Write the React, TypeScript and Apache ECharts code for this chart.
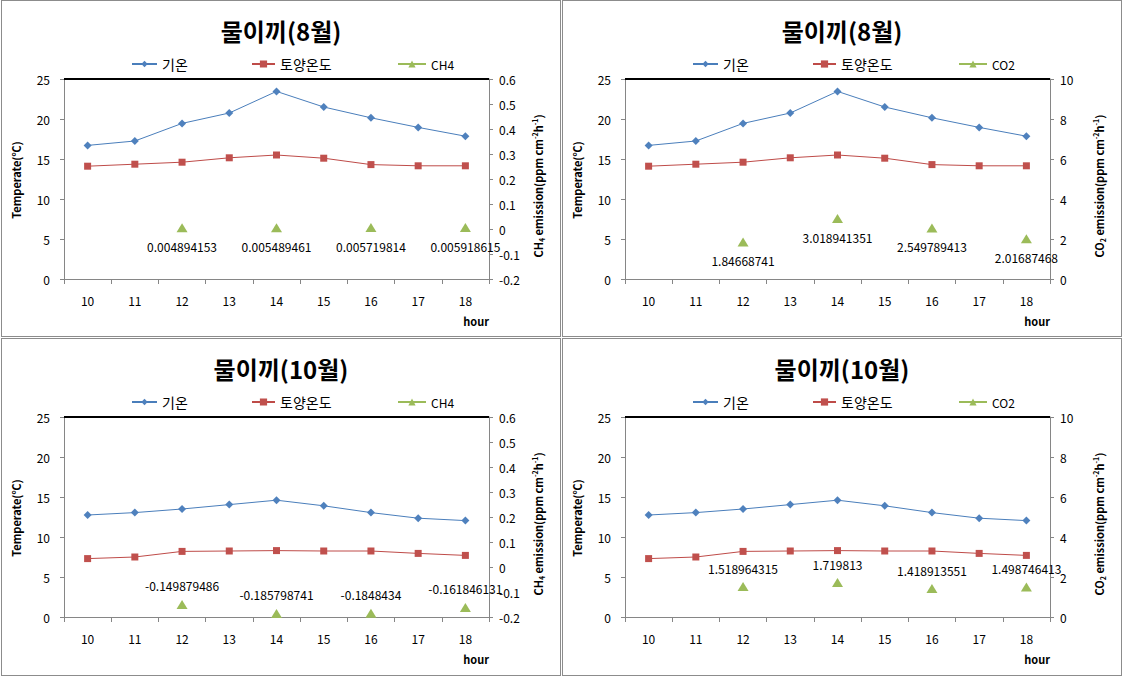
import React, { useEffect, useRef } from "react";
import * as echarts from "echarts";

const hours = ["10", "11", "12", "13", "14", "15", "16", "17", "18"];

const airTempAug = [16.7, 17.25, 19.45, 20.75, 23.45, 21.5, 20.15, 18.95, 17.85];
const soilTempAug = [14.1, 14.35, 14.6, 15.15, 15.5, 15.1, 14.3, 14.15, 14.15];
const ch4Aug = [null, null, 0.004894153, null, 0.005489461, null, 0.005719814, null, 0.005918615];
const co2Aug = [null, null, 1.84668741, null, 3.018941351, null, 2.549789413, null, 2.01687468];

const airTempOct = [12.75, 13.05, 13.5, 14.05, 14.6, 13.9, 13.05, 12.35, 12.05];
const soilTempOct = [7.3, 7.5, 8.2, 8.25, 8.3, 8.25, 8.25, 7.95, 7.7];
const ch4Oct = [null, null, -0.149879486, null, -0.185798741, null, -0.1848434, null, -0.161846131];
const co2Oct = [null, null, 1.518964315, null, 1.719813, null, 1.418913551, null, 1.498746413];

const leftTicks = { min: 0, max: 25, interval: 5 };
const ch4Ticks = { min: -0.2, max: 0.6, interval: 0.1 };
const co2Ticks = { min: 0, max: 10, interval: 2 };

const FONT = "'Noto Sans CJK KR', 'Noto Sans', sans-serif";
const AXIS_GRAY = "#868686";

const GRID_LEFT = 62;
const GRID_TOP = 78;
const GRID_W = 425;
const GRID_H = 200;

type PanelProps = {
  title: string;
  gas: string;
  air: number[];
  soil: number[];
  emission: (number | null)[];
  right: { min: number; max: number; interval: number };
  labelPos: "top" | "bottom";
  left: number;
  top: number;
  height: number;
};

function Panel(p: PanelProps) {
  const ref = useRef<HTMLDivElement>(null);
  useEffect(() => {
    if (!ref.current) return;
    const chart = echarts.init(ref.current, null, { renderer: "svg" });
    const axisLabel = { color: "#000", fontSize: 12, fontFamily: FONT };
    const gasSub = p.gas === "CH4" ? "4" : "2";
    const gasMain = p.gas === "CH4" ? "CH" : "CO";
    chart.setOption({
      animation: false,
      backgroundColor: "#fff",
      title: {
        text: p.title,
        left: "center",
        top: 12,
        textStyle: { fontSize: 24, fontWeight: "bold", color: "#000", fontFamily: FONT },
      },
      legend: [
        {
          data: ["기온"],
          left: 124,
          top: 51,
          itemWidth: 25,
          itemHeight: 8,
          itemGap: 4,
          textStyle: { fontSize: 14, color: "#000", fontFamily: FONT, padding: [7, 0, 0, 0] },
        },
        {
          data: ["토양온도"],
          left: 244,
          top: 51,
          itemWidth: 23,
          itemHeight: 9,
          textStyle: { fontSize: 14, color: "#000", fontFamily: FONT, padding: [7, 0, 0, 0] },
        },
        {
          data: [p.gas],
          left: 390,
          top: 52,
          itemWidth: 28,
          itemHeight: 9,
          textStyle: { fontSize: 12, color: "#000", fontFamily: FONT, padding: [2, 0, 0, 0] },
        },
      ],
      grid: { left: GRID_LEFT, top: GRID_TOP, width: GRID_W, height: GRID_H },
      xAxis: {
        type: "category",
        data: hours,
        boundaryGap: true,
        position: "bottom",
        axisLine: { onZero: false, lineStyle: { color: AXIS_GRAY, width: 1 } },
        axisTick: { show: true, length: 5, lineStyle: { color: AXIS_GRAY } },
        axisLabel: { ...axisLabel, margin: 15 },
        splitLine: { show: false },
      },
      yAxis: [
        {
          type: "value",
          position: "left",
          ...leftTicks,
          axisLine: { show: true, onZero: false, lineStyle: { color: AXIS_GRAY } },
          axisTick: { show: true, length: 4, lineStyle: { color: AXIS_GRAY } },
          axisLabel: { ...axisLabel, margin: 14 },
          splitLine: { show: false },
        },
        {
          type: "value",
          position: "right",
          ...p.right,
          axisLine: { show: true, onZero: false, lineStyle: { color: AXIS_GRAY } },
          axisTick: { show: true, length: 4, lineStyle: { color: AXIS_GRAY } },
          axisLabel: { ...axisLabel, margin: 10 },
          splitLine: { show: false },
        },
      ],
      graphic: [
        {
          type: "text",
          x: 14,
          y: 179,
          rotation: Math.PI / 2,
          style: {
            text: "Temperate(℃)",
            fontSize: 11,
            fontWeight: "bold",
            fontFamily: FONT,
            fill: "#000",
            align: "center",
            verticalAlign: "middle",
          },
        },
        {
          type: "text",
          x: 536,
          y: 185,
          rotation: Math.PI / 2,
          style: {
            text: `{a|${gasMain}}{s|${gasSub}}{a| emission(ppm cm}{p|-2}{a|h}{p|-1}{a|)}`,
            align: "center",
            verticalAlign: "middle",
            rich: {
              a: { fontSize: 11, fontWeight: "bold", fontFamily: FONT, fill: "#000", lineHeight: 14, verticalAlign: "middle" },
              s: { fontSize: 7, fontWeight: "bold", fontFamily: FONT, fill: "#000", lineHeight: 14, verticalAlign: "bottom" },
              p: { fontSize: 7, fontWeight: "bold", fontFamily: FONT, fill: "#000", lineHeight: 14, verticalAlign: "top" },
            },
          },
        },
        {
          type: "text",
          x: 487,
          y: 320,
          style: {
            text: "hour",
            fontSize: 11,
            fontWeight: "bold",
            fontFamily: FONT,
            fill: "#000",
            align: "right",
            verticalAlign: "middle",
          },
        },
      ],
      series: [
        {
          name: "기온",
          type: "line",
          data: p.air,
          yAxisIndex: 0,
          symbol: "diamond",
          symbolSize: 8,
          lineStyle: { color: "#4A7EBB", width: 1 },
          itemStyle: { color: "#4F81BD" },
        },
        {
          name: "토양온도",
          type: "line",
          data: p.soil,
          yAxisIndex: 0,
          symbol: "rect",
          symbolSize: 7,
          lineStyle: { color: "#BE4B48", width: 1 },
          itemStyle: { color: "#C0504D" },
        },
        {
          name: p.gas,
          type: "line",
          data: p.emission,
          yAxisIndex: 1,
          symbol: "triangle",
          symbolSize: [11, 9],
          connectNulls: false,
          lineStyle: { color: "#9BBB59", width: 3 },
          itemStyle: { color: "#9BBB59" },
          label: {
            show: true,
            position: p.labelPos,
            distance: 8,
            color: "#000",
            fontSize: 12,
            fontFamily: FONT,
          },
        },
      ],
    });
    return () => chart.dispose();
  }, []);
  return (
    <div
      style={{
        position: "absolute",
        left: p.left,
        top: p.top,
        width: 560,
        height: p.height,
        border: "1px solid #8c8c8c",
        boxSizing: "border-box",
        background: "#fff",
      }}
    >
      <div ref={ref} style={{ position: "absolute", left: 0, top: 0, width: "100%", height: "100%" }} />
      <div
        style={{
          position: "absolute",
          left: GRID_LEFT,
          top: GRID_TOP - 1,
          width: GRID_W,
          height: 2,
          background: "#000",
          pointerEvents: "none",
        }}
      />
    </div>
  );
}

export default function App() {
  return (
    <div style={{ position: "absolute", left: 0, top: 0, width: 1123, height: 678, background: "#fff" }}>
      <Panel title="물이끼(8월)" gas="CH4" air={airTempAug} soil={soilTempAug} emission={ch4Aug} right={ch4Ticks} labelPos="bottom" left={1} top={0} height={337} />
      <Panel title="물이끼(8월)" gas="CO2" air={airTempAug} soil={soilTempAug} emission={co2Aug} right={co2Ticks} labelPos="bottom" left={562} top={0} height={337} />
      <Panel title="물이끼(10월)" gas="CH4" air={airTempOct} soil={soilTempOct} emission={ch4Oct} right={ch4Ticks} labelPos="top" left={1} top={338} height={338} />
      <Panel title="물이끼(10월)" gas="CO2" air={airTempOct} soil={soilTempOct} emission={co2Oct} right={co2Ticks} labelPos="top" left={562} top={338} height={338} />
    </div>
  );
}
